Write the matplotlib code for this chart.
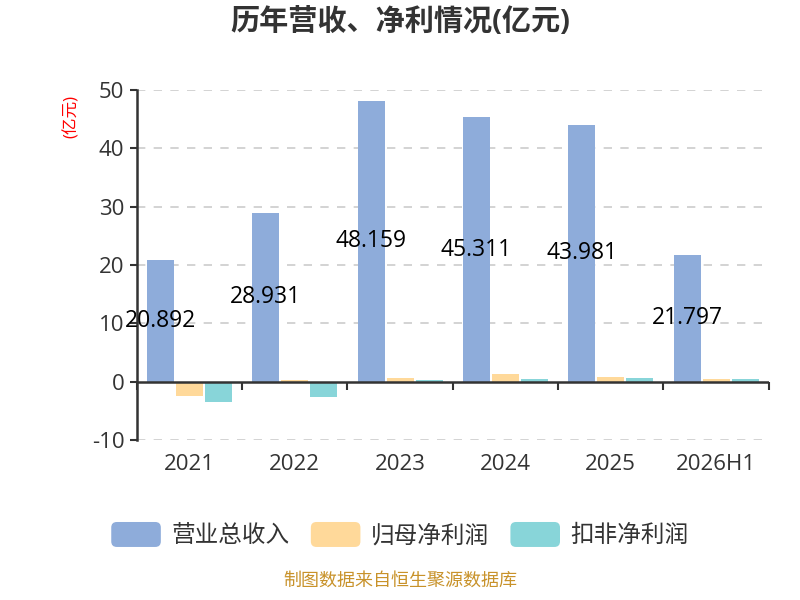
import numpy as np
import matplotlib
matplotlib.use("Agg")
import matplotlib.pyplot as plt
from matplotlib.patches import FancyBboxPatch, Rectangle
from matplotlib.legend_handler import HandlerPatch

plt.rcParams['font.family'] = ['Open Sans', 'Noto Sans CJK SC', 'DejaVu Sans']

years = ['2021', '2022', '2023', '2024', '2025', '2026H1']
revenue = [20.892, 28.931, 48.159, 45.311, 43.981, 21.797]
net_profit = [-2.5, 0.3, 0.6, 1.3, 0.8, 0.5]
net_profit_adj = [-3.5, -2.7, 0.3, 0.5, 0.6, 0.4]

names = ['营业总收入', '归母净利润', '扣非净利润']
colors = ['#8eacda', '#ffd99a', '#88d5d9']
yticks = [-10, 0, 10, 20, 30, 40, 50]


class RoundHandler(HandlerPatch):
    def create_artists(self, legend, orig_handle, xdescent, ydescent,
                       width, height, fontsize, trans):
        p = FancyBboxPatch((-xdescent, -ydescent), width, height,
                           boxstyle="round,pad=0,rounding_size=4",
                           facecolor=orig_handle.get_facecolor(),
                           edgecolor='none', transform=trans)
        return [p]


fig = plt.figure(figsize=(8, 6), dpi=100)
ax = fig.add_axes([0.171, 0.2667, 0.79, 0.5833])

x = np.arange(len(years))
w = 0.255
step = 0.275
bars = []
for i, (vals, c) in enumerate(zip([revenue, net_profit, net_profit_adj], colors)):
    b = ax.bar(x + (i - 1) * step, vals, w, color=c, label=names[i], zorder=3)
    bars.append(b)

for xi, v in zip(x, revenue):
    ax.text(xi - step, v / 2, '%.3f' % v, ha='center', va='center',
            fontsize=16.5, color='black', zorder=5)

ax.set_xlim(-0.5, len(years) - 0.5)
ax.set_ylim(-10, 50)
ax.set_yticks(yticks)
ax.set_yticklabels([str(t) for t in yticks], fontsize=16, color='#333333')
ax.set_xticks(x)
ax.set_xticklabels(years, fontsize=16, color='#333333')
ax.tick_params(axis='x', length=0, pad=10)
ax.tick_params(axis='y', length=5, width=1.5, color='#333333', pad=4)

for t in yticks:
    if t != 0:
        ax.axhline(t, color='#cccccc', linestyle=(0, (5, 5)), linewidth=1.2, zorder=1)
ax.axhline(0, color='#333333', linewidth=1.8, zorder=4)

for s in ['top', 'right', 'bottom']:
    ax.spines[s].set_visible(False)
ax.spines['left'].set_color('#333333')
ax.spines['left'].set_linewidth(1.8)

sec = ax.secondary_xaxis(1 / 6)
sec.set_xticks(np.arange(len(years) + 1) - 0.5)
sec.set_xticklabels([])
sec.spines['bottom'].set_visible(False)
sec.tick_params(axis='x', length=6, width=1.5, color='#333333', direction='out')

fig.text(0.09, 0.805, '(亿元)', rotation=90, color='red', fontsize=12,
         ha='center', va='center')

fig.suptitle('历年营收、净利情况(亿元)', fontsize=21, fontweight='bold',
             color='#333333', y=0.962, va='center')

leg = fig.legend(handles=[b[0] for b in bars], labels=names, loc='center',
                 bbox_to_anchor=(0.5, 0.108), ncol=3, frameon=False,
                 fontsize=17, handlelength=2.1, handleheight=1.25,
                 handletextpad=0.45, columnspacing=0.9,
                 handler_map={Rectangle: RoundHandler()})
for t in leg.get_texts():
    t.set_color('#333333')

fig.text(0.5, 0.017, '制图数据来自恒生聚源数据库', ha='center', va='bottom',
         fontsize=13, color='#c8922a')

fig.savefig('out.png', dpi=100)
